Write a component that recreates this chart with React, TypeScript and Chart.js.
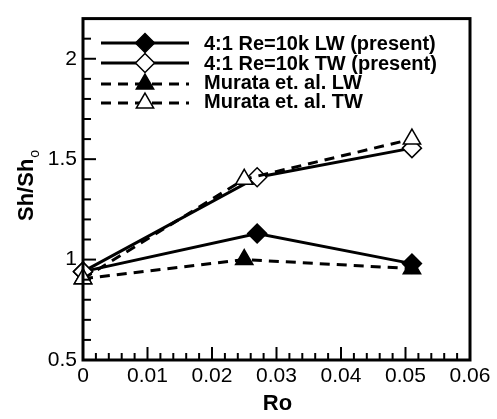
import React, { useEffect, useRef } from 'react';
import { Chart, registerables } from 'chart.js';

Chart.register(...registerables);

// ---- data ----
const roPresent = [0, 0.027, 0.051];
const lwPresent = [0.94, 1.13, 0.98];
const twPresent = [0.94, 1.41, 1.555];
const roMurata = [0, 0.025, 0.051];
const lwMurata = [0.905, 1.0, 0.955];
const twMurata = [0.905, 1.4, 1.6];

const seriesLabels = [
  '4:1 Re=10k LW (present)',
  '4:1 Re=10k TW (present)',
  'Murata et. al. LW',
  'Murata et. al. TW',
];

const xTickValues = [0, 0.01, 0.02, 0.03, 0.04, 0.05, 0.06];
const xTickLabels = ['0', '0.01', '0.02', '0.03', '0.04', '0.05', '0.06'];
const yTickValues = [0.5, 1, 1.5, 2];
const yTickLabels = ['0.5', '1', '1.5', '2'];
const xTitle = 'Ro';
const yTitleMain = 'Sh/Sh';
const yTitleSub = 'o';

const FONT = '"Liberation Sans", Arial, Helvetica, sans-serif';

type Marker = { style: 'rectRot' | 'triangle'; filled: boolean; dashed: boolean; radius: number };
const markers: Marker[] = [
  { style: 'rectRot', filled: true, dashed: false, radius: 9.5 },
  { style: 'rectRot', filled: false, dashed: false, radius: 9.5 },
  { style: 'triangle', filled: true, dashed: true, radius: 10 },
  { style: 'triangle', filled: false, dashed: true, radius: 10 },
];

function drawMarker(ctx: CanvasRenderingContext2D, m: Marker, x: number, y: number) {
  const r = m.radius;
  ctx.beginPath();
  if (m.style === 'rectRot') {
    ctx.moveTo(x - r, y);
    ctx.lineTo(x, y - r);
    ctx.lineTo(x + r, y);
    ctx.lineTo(x, y + r);
  } else {
    const hw = r * Math.sin((2 * Math.PI) / 3);
    ctx.moveTo(x, y - r);
    ctx.lineTo(x + hw, y + r / 2);
    ctx.lineTo(x - hw, y + r / 2);
  }
  ctx.closePath();
  ctx.setLineDash([]);
  ctx.fillStyle = m.filled ? '#000' : '#fff';
  ctx.fill();
  ctx.lineWidth = 1.5;
  ctx.strokeStyle = '#000';
  ctx.stroke();
}

const framePlugin = {
  id: 'framePlugin',
  afterDatasetsDraw(chart: any) {
    const ctx: CanvasRenderingContext2D = chart.ctx;
    const xs = chart.scales.x;
    const ys = chart.scales.y;
    const { left, right, top, bottom } = chart.chartArea;
    ctx.save();
    ctx.setLineDash([]);
    ctx.strokeStyle = '#000';
    ctx.lineWidth = 2;
    // x minor/major ticks (inward)
    for (let i = 1; i < 30; i++) {
      const px = xs.getPixelForValue(i * 0.002);
      const len = i % 5 === 0 ? 13 : 7;
      ctx.beginPath();
      ctx.moveTo(px, bottom);
      ctx.lineTo(px, bottom - len);
      ctx.stroke();
    }
    for (let i = 1; i < 17; i++) {
      const py = ys.getPixelForValue(0.5 + i * 0.1);
      const len = i % 5 === 0 ? 13 : 8;
      ctx.beginPath();
      ctx.moveTo(left, py);
      ctx.lineTo(left + len, py);
      ctx.stroke();
    }
    ctx.lineWidth = 3;
    ctx.strokeRect(left, top, right - left, bottom - top);
    ctx.restore();
  },
  afterDraw(chart: any) {
    const ctx: CanvasRenderingContext2D = chart.ctx;
    const { left, right } = chart.chartArea;
    ctx.save();
    // legend
    const rowY = [43, 63, 84, 103];
    const textY = [43, 62.5, 82, 101];
    const x0 = 101;
    const x1 = 189;
    const xm = (x0 + x1) / 2;
    for (let i = 0; i < seriesLabels.length; i++) {
      const m = markers[i];
      ctx.strokeStyle = '#000';
      ctx.lineWidth = 3;
      ctx.setLineDash(m.dashed ? [10, 7] : []);
      ctx.beginPath();
      ctx.moveTo(x0, rowY[i]);
      ctx.lineTo(x1, rowY[i]);
      ctx.stroke();
      drawMarker(ctx, m, xm, rowY[i]);
      ctx.fillStyle = '#000';
      ctx.font = `bold 20px ${FONT}`;
      ctx.textAlign = 'left';
      ctx.textBaseline = 'alphabetic';
      ctx.fillText(seriesLabels[i], 204, textY[i] + 7.2);
    }
    // x title
    ctx.font = `bold 22px ${FONT}`;
    ctx.textAlign = 'center';
    ctx.textBaseline = 'alphabetic';
    ctx.fillText(xTitle, (left + right) / 2 + 1, 410);
    // y title
    ctx.translate(33, 221);
    ctx.rotate(-Math.PI / 2);
    ctx.textAlign = 'left';
    ctx.font = `bold 22px ${FONT}`;
    ctx.fillText(yTitleMain, 0, 0);
    const w = ctx.measureText(yTitleMain).width;
    ctx.font = `14px ${FONT}`;
    ctx.fillText(yTitleSub, w + 1, 6);
    ctx.restore();
  },
};

export default function App() {
  const canvasRef = useRef<HTMLCanvasElement | null>(null);

  useEffect(() => {
    document.body.style.margin = '0';
    const canvas = canvasRef.current;
    if (!canvas) return;

    const mk = (xs: number[], ys: number[]) => xs.map((x, i) => ({ x, y: ys[i] }));

    const dataset = (label: string, pts: any[], m: Marker, order: number) => ({
      label,
      data: pts,
      borderColor: '#000',
      borderWidth: 3,
      borderDash: m.dashed ? [10, 7] : [],
      pointStyle: m.style,
      pointRadius: m.radius,
      pointHoverRadius: m.radius,
      pointBackgroundColor: m.filled ? '#000' : '#fff',
      pointBorderColor: '#000',
      pointBorderWidth: 1.5,
      tension: 0,
      fill: false,
      clip: false,
      order,
    });

    const tickFont = { family: FONT, size: 21 };

    const chart = new Chart(canvas, {
      type: 'line',
      data: {
        datasets: [
          dataset(seriesLabels[0], mk(roPresent, lwPresent), markers[0], 3),
          dataset(seriesLabels[1], mk(roPresent, twPresent), markers[1], 1),
          dataset(seriesLabels[2], mk(roMurata, lwMurata), markers[2], 2),
          dataset(seriesLabels[3], mk(roMurata, twMurata), markers[3], 0),
        ],
      },
      options: {
        animation: false,
        responsive: false,
        events: [],
        layout: { padding: { top: 8, right: 27, left: 0, bottom: 0 } },
        plugins: {
          legend: { display: false },
          tooltip: { enabled: false },
          title: { display: false },
        },
        scales: {
          x: {
            type: 'linear',
            min: 0,
            max: 0.06,
            grid: { display: false, drawTicks: false },
            border: { display: false },
            afterBuildTicks: (scale: any) => {
              scale.ticks = xTickValues.map((v) => ({ value: v }));
            },
            afterFit: (scale: any) => {
              scale.height = 59;
            },
            ticks: {
              color: '#000',
              font: tickFont,
              padding: 4,
              maxRotation: 0,
              autoSkip: false,
              callback: (v: any) => {
                const i = xTickValues.findIndex((t) => Math.abs(t - v) < 1e-9);
                return i >= 0 ? xTickLabels[i] : '';
              },
            },
          },
          y: {
            type: 'linear',
            min: 0.5,
            max: 2.2,
            grid: { display: false, drawTicks: false },
            border: { display: false },
            afterBuildTicks: (scale: any) => {
              scale.ticks = yTickValues.map((v) => ({ value: v }));
            },
            afterFit: (scale: any) => {
              scale.width = 83;
            },
            ticks: {
              color: '#000',
              font: tickFont,
              padding: 6,
              autoSkip: false,
              callback: (v: any) => {
                const i = yTickValues.findIndex((t) => Math.abs(t - v) < 1e-9);
                return i >= 0 ? yTickLabels[i] : '';
              },
            },
          },
        },
      } as any,
      plugins: [framePlugin],
    });

    return () => {
      chart.destroy();
    };
  }, []);

  return (
    <div style={{ width: 497, height: 419, background: '#fff' }}>
      <canvas ref={canvasRef} width={497} height={419} style={{ display: 'block' }} />
    </div>
  );
}
